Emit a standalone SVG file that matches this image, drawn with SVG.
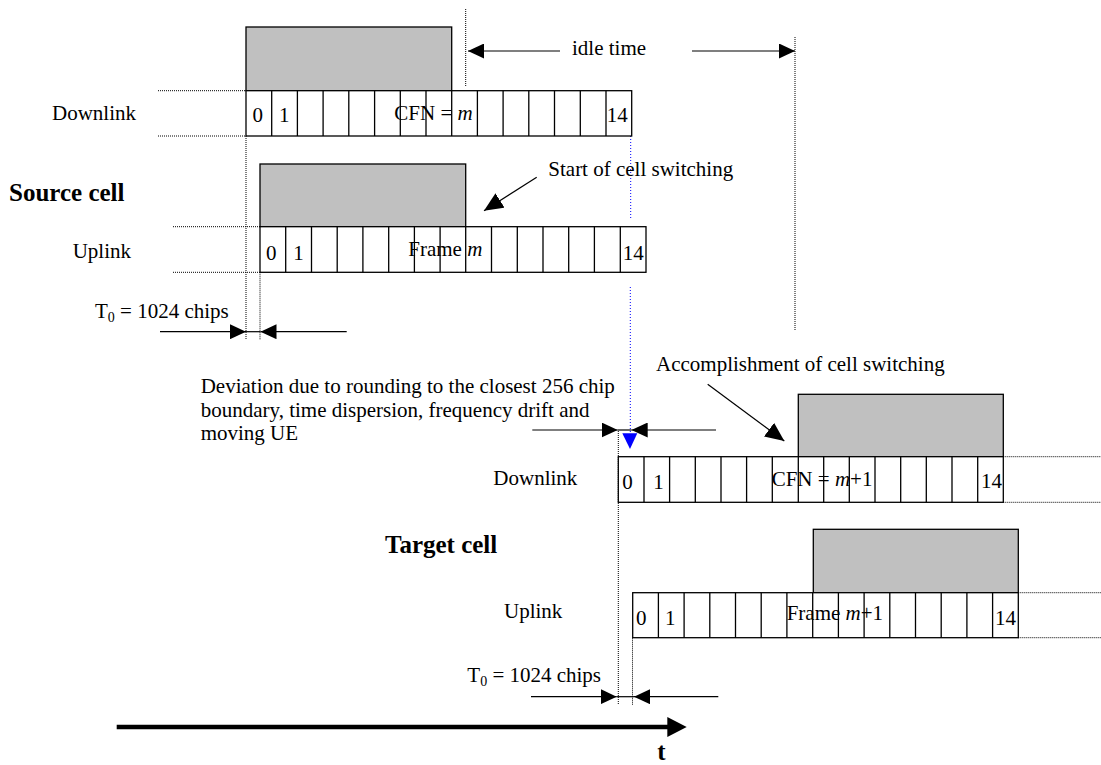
<svg xmlns="http://www.w3.org/2000/svg" width="1101" height="765" viewBox="0 0 1101 765">
<style>
text{font-family:"Liberation Serif","Times New Roman",serif;font-size:21px;fill:#000}
.b{font-weight:bold;font-size:25px}
.i{font-style:italic}
.grey{fill:#c0c0c0;stroke:#000;stroke-width:1.3}
.cell{fill:#fff;stroke:#000;stroke-width:1.3}
.dot{stroke:#000;stroke-width:1;stroke-dasharray:1 1;fill:none}
.blue{stroke:#0000ff;stroke-width:1;stroke-dasharray:1 2;fill:none}
.arr{stroke:#000;stroke-width:1.2;fill:none}
</style>
<defs>
<marker id="ah" markerUnits="userSpaceOnUse" markerWidth="16" markerHeight="15" refX="16" refY="7.5" orient="auto" viewBox="0 0 16 15">
<path d="M0,0 L16,7.5 L0,15 z" fill="#000"/>
</marker>
<marker id="ahl" markerUnits="userSpaceOnUse" markerWidth="19" markerHeight="17" refX="19" refY="8.5" orient="auto" viewBox="0 0 19 17">
<path d="M0,0 L19,8.5 L0,17 z" fill="#000"/>
</marker>
</defs>

<g id="guides">
<line class="dot" x1="158" y1="90.7" x2="246" y2="90.7"/>
<line class="dot" x1="158" y1="136" x2="246" y2="136"/>
<line class="dot" x1="246" y1="136" x2="246" y2="340"/>
<line class="dot" x1="173" y1="226.7" x2="260" y2="226.7"/>
<line class="dot" x1="173" y1="272.3" x2="260" y2="272.3"/>
<line class="dot" x1="260" y1="272.3" x2="260" y2="340"/>
<line class="dot" x1="465.7" y1="9" x2="465.7" y2="86"/>
<line class="dot" x1="795" y1="37" x2="795" y2="330"/>
<line class="blue" x1="630.7" y1="136" x2="630.7" y2="220"/>
<line class="blue" x1="630.3" y1="287" x2="630.3" y2="433"/>
<line class="dot" x1="618.3" y1="431" x2="618.3" y2="705"/>
<line class="dot" x1="632.5" y1="637.7" x2="632.5" y2="705"/>
<line class="dot" x1="1003.3" y1="456.7" x2="1101" y2="456.7"/>
<line class="dot" x1="1003.3" y1="502.3" x2="1101" y2="502.3"/>
<line class="dot" x1="1018.3" y1="592.7" x2="1101" y2="592.7"/>
<line class="dot" x1="1018.3" y1="637.7" x2="1101" y2="637.7"/>
</g>

<g id="source-downlink">
<rect class="grey" x="246" y="27" width="205.7" height="63.7"/>
<rect class="cell" x="246" y="90.7" width="385.7" height="45.3"/>
<path class="cell" d="M271.7,90.7V136M297.4,90.7V136M323.1,90.7V136M348.8,90.7V136M374.6,90.7V136M400.3,90.7V136M426,90.7V136M451.7,90.7V136M477.4,90.7V136M503.1,90.7V136M528.8,90.7V136M554.5,90.7V136M580.3,90.7V136M606,90.7V136"/>
<text x="52" y="119.5">Downlink</text>
<text x="252.5" y="121.5">0</text>
<text x="279" y="121.5">1</text>
<text x="394.3" y="119.5">CFN = <tspan class="i">m</tspan></text>
<text x="606.7" y="121.5">14</text>
</g>

<g id="source-uplink">
<rect class="grey" x="260" y="164" width="205.7" height="62.7"/>
<rect class="cell" x="260" y="226.7" width="386" height="45.6"/>
<path class="cell" d="M285.7,226.7V272.3M311.5,226.7V272.3M337.2,226.7V272.3M362.9,226.7V272.3M388.7,226.7V272.3M414.4,226.7V272.3M440.1,226.7V272.3M465.7,226.7V272.3M491.5,226.7V272.3M517.3,226.7V272.3M543,226.7V272.3M568.7,226.7V272.3M594.4,226.7V272.3M620.3,226.7V272.3"/>
<text x="72.7" y="258.3">Uplink</text>
<text x="266" y="260">0</text>
<text x="293.3" y="260">1</text>
<text x="408.3" y="256">Frame <tspan class="i">m</tspan></text>
<text x="622.7" y="260">14</text>
</g>

<g id="target-downlink">
<rect class="grey" x="798.3" y="394.3" width="205" height="62.4"/>
<rect class="cell" x="618.3" y="456.7" width="385" height="45.6"/>
<path class="cell" d="M644,456.7V502.3M669.6,456.7V502.3M695.3,456.7V502.3M721,456.7V502.3M746.6,456.7V502.3M772.3,456.7V502.3M798.3,456.7V502.3M823.7,456.7V502.3M849.3,456.7V502.3M875,456.7V502.3M900.7,456.7V502.3M926.3,456.7V502.3M952,456.7V502.3M977.7,456.7V502.3"/>
<text x="493.3" y="485">Downlink</text>
<text x="622.3" y="489">0</text>
<text x="653.3" y="489">1</text>
<text x="771.7" y="485.5">CFN = <tspan class="i">m</tspan>+1</text>
<text x="981" y="488">14</text>
</g>

<g id="target-uplink">
<rect class="grey" x="813.3" y="529.3" width="205" height="63.4"/>
<rect class="cell" x="632.7" y="592.7" width="385.6" height="45"/>
<path class="cell" d="M658.4,592.7V637.7M684.1,592.7V637.7M709.8,592.7V637.7M735.5,592.7V637.7M761.2,592.7V637.7M786.9,592.7V637.7M812.7,592.7V637.7M838.4,592.7V637.7M864.1,592.7V637.7M889.8,592.7V637.7M915.5,592.7V637.7M941.2,592.7V637.7M966.9,592.7V637.7M992.6,592.7V637.7"/>
<text x="504" y="618.3">Uplink</text>
<text x="636" y="625">0</text>
<text x="665" y="625">1</text>
<text x="786.7" y="620">Frame <tspan class="i">m</tspan>+1</text>
<text x="995" y="625">14</text>
</g>

<g id="labels">
<text class="b" x="9" y="200.7">Source cell</text>
<text class="b" x="385" y="553.3">Target cell</text>
<text x="572" y="55">idle time</text>
<text x="548.3" y="176">Start of cell switching</text>
<text x="656" y="370.7">Accomplishment of cell switching</text>
<text x="95" y="317.5">T<tspan font-size="14" dy="4">0</tspan><tspan dy="-4"> = 1024 chips</tspan></text>
<text x="467.3" y="681.5">T<tspan font-size="14" dy="4">0</tspan><tspan dy="-4"> = 1024 chips</tspan></text>
<text x="200.7" y="393">Deviation due to rounding to the closest 256 chip</text>
<text x="200.7" y="416.5">boundary, time dispersion, frequency drift and</text>
<text x="200.7" y="440">moving UE</text>
<text class="b" x="657.3" y="760" font-size="24">t</text>
</g>

<g id="connectors">
<line class="arr" x1="560" y1="51" x2="468" y2="51" marker-end="url(#ah)"/>
<line class="arr" x1="692" y1="51" x2="795" y2="51" marker-end="url(#ah)"/>
<line class="arr" x1="536.7" y1="177.3" x2="484" y2="210.7" marker-end="url(#ahl)"/>
<line class="arr" x1="707.7" y1="384.3" x2="784.3" y2="441" marker-end="url(#ahl)"/>
<line class="arr" x1="160" y1="331.7" x2="246" y2="331.7" marker-end="url(#ah)"/>
<line class="arr" x1="346.7" y1="331.7" x2="260.5" y2="331.7" marker-end="url(#ah)"/>
<line class="arr" x1="246" y1="331.7" x2="260.5" y2="331.7"/>
<line class="arr" x1="532.3" y1="430" x2="617.7" y2="430" marker-end="url(#ah)"/>
<line class="arr" x1="716" y1="430" x2="631.7" y2="430" marker-end="url(#ah)"/>
<line class="arr" x1="617.7" y1="430" x2="631.7" y2="430"/>
<polygon points="622.3,433.3 637.3,433.3 630,449" fill="#0000ff"/>
<line class="arr" x1="531" y1="696.7" x2="616.7" y2="696.7" marker-end="url(#ah)"/>
<line class="arr" x1="718.3" y1="696.7" x2="634" y2="696.7" marker-end="url(#ah)"/>
<line class="arr" x1="616.7" y1="696.7" x2="634" y2="696.7"/>
<line x1="116.7" y1="727" x2="670" y2="727" stroke="#000" stroke-width="4.5"/>
<polygon points="667.3,717 686.7,727 667.3,737" fill="#000"/>
</g>
</svg>
